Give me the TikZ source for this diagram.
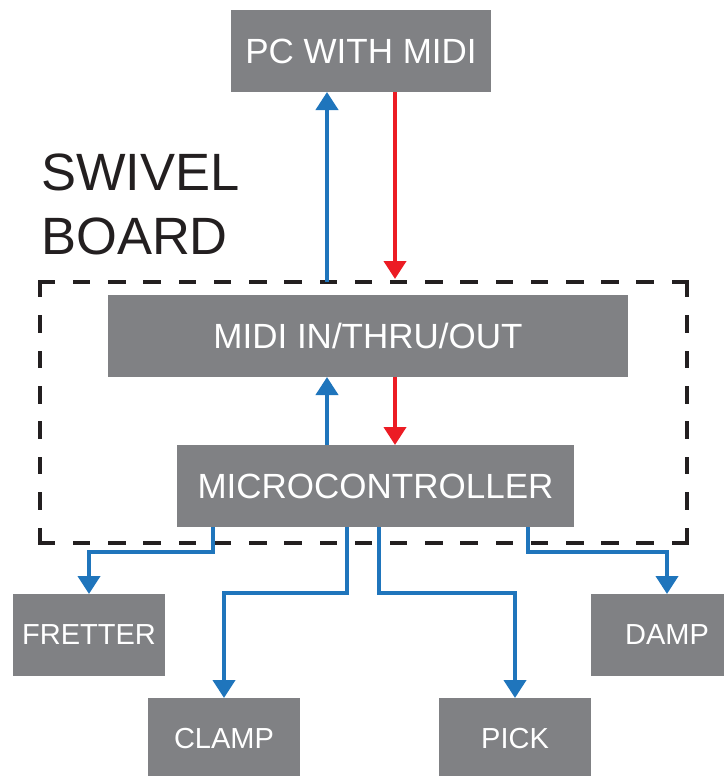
\documentclass[tikz,border=0pt]{standalone}
\usepackage{fontspec}
\setmainfont{Liberation Sans}
\usetikzlibrary{arrows.meta, calc}
\definecolor{GrayBox}{HTML}{808184}
\definecolor{BlueL}{HTML}{1F75BC}
\definecolor{RedL}{HTML}{EC1C24}
\definecolor{InkK}{HTML}{231F20}
\tikzset{
  blk/.style={fill=GrayBox, text=white, minimum height=82pt, inner sep=0pt, outer sep=0pt},
  bigblk/.style={blk, font=\fontsize{35}{40}\selectfont},
  smallblk/.style={blk, minimum width=152pt, font=\fontsize{29}{34}\selectfont},
  sendarr/.style={draw=BlueL, line width=4pt, -{Triangle[length=18pt, width=22pt]}},
  recvarr/.style={draw=RedL, line width=4pt, -{Triangle[length=18pt, width=22pt]}},
  edgeh/.style={draw=InkK, line width=4.5pt, line cap=rect, dash pattern=on 13pt off 22.22pt},
  edgev/.style={draw=InkK, line width=4.5pt, line cap=rect, dash pattern=on 13pt off 22.43pt}
}
\begin{document}
\begin{tikzpicture}[x=1pt, y=-1pt]
  \useasboundingbox (0,0) rectangle (723,776);

  \node[bigblk, minimum width=260pt] (pc) at (361,51) {PC WITH MIDI};
  \node[bigblk, minimum width=520pt] (midi) at (368,336) {MIDI IN/THRU/OUT};
  \node[bigblk, minimum width=397pt] (mcu) at (375.5,486) {MICROCONTROLLER};

  \node[smallblk] (fretter) at (89,635) {FRETTER};
  \node[smallblk] (clamp) at (224,739) {CLAMP};
  \node[smallblk] (pick) at (515,739) {PICK};
  \node[smallblk] (damp) at (667,635) {DAMP};

  % swivel board frame
  \node[minimum width=647pt, minimum height=261pt, inner sep=0pt, outer sep=0pt] (board) at (363.5,412.5) {};
  \draw[edgeh] (board.north west) -- (board.north east);
  \draw[edgeh] (board.south west) -- (board.south east);
  \draw[edgev] (board.north west) -- (board.south west);
  \draw[edgev] (board.north east) -- (board.south east);
  \node[anchor=north west, align=left, inner sep=0pt, text=InkK,
        font=\fontsize{52.5}{64}\selectfont] (swivel) at (41,154) {SWIVEL\\BOARD};

  \coordinate (pcL) at ([xshift=-34pt]pc.south);
  \coordinate (pcR) at ([xshift=34pt]pc.south);

  \draw[sendarr] (pcL |- board.north) -- (pcL);
  \draw[recvarr] (pcR) -- ([yshift=3pt]pcR |- board.north);
  \draw[sendarr] (pcL |- mcu.north) -- (pcL |- midi.south);
  \draw[recvarr] (pcR |- midi.south) -- (pcR |- mcu.north);

  \draw[sendarr] ([xshift=36pt]mcu.south west) |- ([yshift=42pt]fretter.north) -- (fretter.north);
  \draw[sendarr] ([xshift=-29pt]mcu.south) |- ([yshift=105pt]clamp.north) -- (clamp.north);
  \draw[sendarr] ([xshift=3pt]mcu.south) |- ([yshift=105pt]pick.north) -- (pick.north);
  \draw[sendarr] ([xshift=-46pt]mcu.south east) |- ([yshift=42pt]damp.north) -- (damp.north);
\end{tikzpicture}
\end{document}
